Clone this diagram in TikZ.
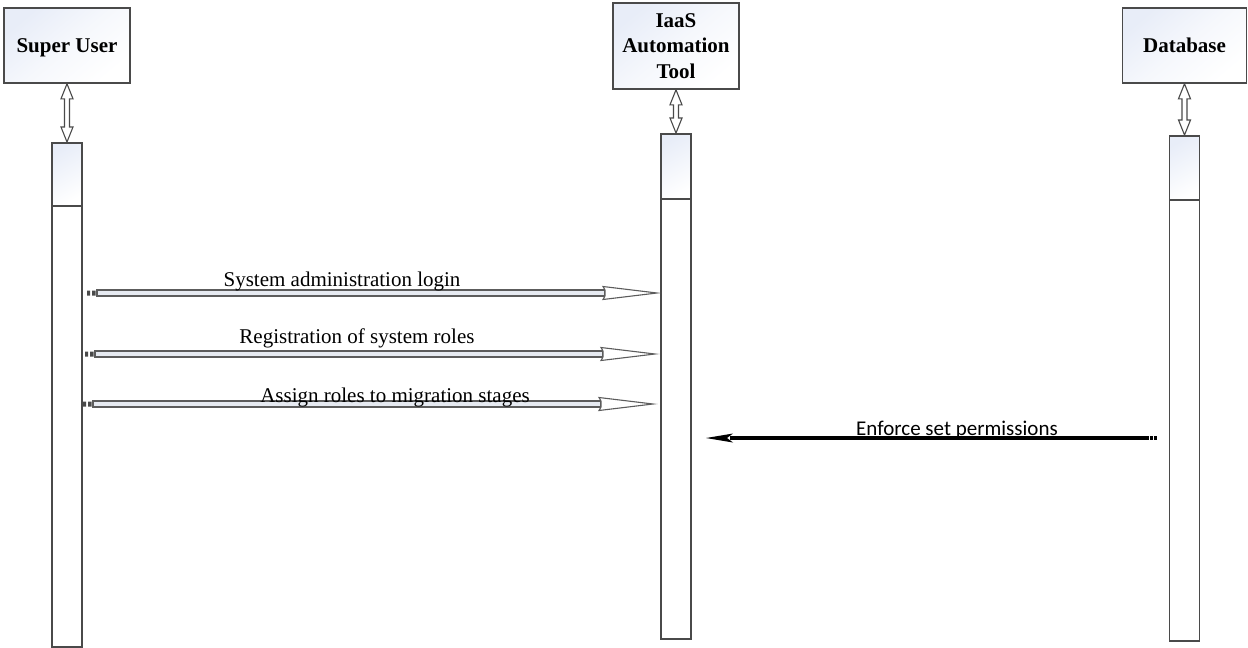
\documentclass[tikz,border=0pt]{standalone}
\usepackage{fontspec}
\setmainfont{Liberation Serif}
\newfontfamily\msgsans{Carlito}
\usetikzlibrary{calc}

\definecolor{edge}{HTML}{4A4A4A}
\definecolor{tint}{HTML}{E8EDF8}
\definecolor{shaftfill}{HTML}{E6EAF1}

\tikzset{
  actor/.style={draw=edge, line width=1.6pt, top color=tint, bottom color=white,
    middle color=white!60!tint, shading angle=40, inner sep=0pt, align=center,
    font=\fontsize{21pt}{25.5pt}\selectfont\bfseries},
  lifeline/.style={draw=edge, line width=1.5pt, fill=white, inner sep=0pt,
    minimum width=30pt, anchor=north},
  lifehead/.style={draw=edge, line width=1.5pt, top color=tint, bottom color=white,
    shading angle=30, inner sep=0pt, minimum width=30pt, anchor=north},
  linkarrow/.style={draw=edge, line width=1.1pt, fill=white, line join=miter},
  msgshaft/.style={draw=edge!90, line width=1.1pt, fill=shaftfill},
  msghead/.style={draw=edge!90, line width=1.1pt, fill=white, line join=miter},
  msglabel/.style={anchor=base, inner sep=0pt, font=\fontsize{21pt}{25pt}\selectfont},
  heavy/.style={draw=black, line width=4pt}
}

% box-to-lifeline hollow double arrow
\newcommand\linkarrow[2]{%
  \draw[linkarrow] let \p1=(#1.south), \p2=(#2.north) in
    (\p1) -- (\x1+6pt,\y1-15pt) -- (\x1+2.5pt,\y1-15pt) -- (\x1+2.5pt,\y2+15pt)
    -- (\x1+6pt,\y2+15pt) -- (\x1,\y2) -- (\x1-6pt,\y2+15pt) -- (\x1-2.5pt,\y2+15pt)
    -- (\x1-2.5pt,\y1-15pt) -- (\x1-6pt,\y1-15pt) -- cycle;}

% hollow message arrow with its small tail marker
\newcommand\msgarrow[2]{%
  \fill[edge] let \p1=(#1) in
    (\x1,\y1-2.5pt) rectangle (\x1+3pt,\y1+2.5pt)
    (\x1+5pt,\y1-2.5pt) rectangle (\x1+8.5pt,\y1+2.5pt);
  \draw[msgshaft] let \p1=(#1), \p2=(#2) in
    (\x1+10pt,\y1-3pt) rectangle (\x2-52pt,\y1+3pt);
  \draw[msghead] let \p1=(#1), \p2=(#2) in
    (\x2-54pt,\y2+6.5pt) -- (\p2) -- (\x2-54pt,\y2-6.5pt) -- (\x2-52pt,\y2-3pt)
    -- (\x2-52pt,\y2+3pt) -- cycle;}

\begin{document}
\begin{tikzpicture}[x=1pt, y=-1pt]
  \useasboundingbox (0,0) rectangle (1248,648);

  % actors
  \node[actor, minimum width=126pt, minimum height=75pt, text depth=0pt] (su) at (67,45.5) {Super User};
  \node[actor, minimum width=126pt, minimum height=86pt] (iaas) at (676,46) {IaaS\\Automation\\Tool};
  \node[actor, minimum width=124pt, minimum height=75pt] (db) at (1184.5,45.5) {Database};

  % lifelines
  \node[lifeline, minimum height=504pt] (suL) at (67,142) {};
  \node[lifehead, minimum height=63pt] (suH) at (suL.north) {};
  \node[lifeline, minimum height=505pt] (iaasL) at (676,133) {};
  \node[lifehead, minimum height=65pt] (iaasH) at (iaasL.north) {};
  \node[lifeline, minimum height=505pt] (dbL) at (1184.5,135) {};
  \node[lifehead, minimum height=64pt] (dbH) at (dbL.north) {};

  \linkarrow{su}{suL}
  \linkarrow{iaas}{iaasL}
  \linkarrow{db}{dbL}

  % message end points
  \coordinate (m1a) at (87,293);   \coordinate (m1b) at (657,293);
  \coordinate (m2a) at (85,354);   \coordinate (m2b) at (655,354);
  \coordinate (m3a) at (83,404);   \coordinate (m3b) at (653,404);
  \coordinate (m4a) at (1157,438); \coordinate (m4b) at (706,438);

  \msgarrow{m1a}{m1b}
  \msgarrow{m2a}{m2b}
  \msgarrow{m3a}{m3b}

  \node[msglabel] (l1) at (342,286) {System administration login};
  \node[msglabel] (l2) at (357,343) {Registration of system roles};
  \node[msglabel] (l3) at (395,402) {Assign roles to migration stages};

  % return message from the database
  \draw[heavy] let \p1=(m4a), \p2=(m4b) in (\x1-12pt,\y1) -- (\x2+24pt,\y2);
  \draw[heavy, dash pattern=on 3.5pt off 1.2pt] let \p1=(m4a) in (\x1-12pt,\y1) -- (\p1);
  \fill[black] let \p2=(m4b) in
    (\p2) -- (\x2+27pt,\y2+4.5pt) -- (\x2+21pt,\y2) -- (\x2+27pt,\y2-4.5pt) -- cycle;
  \node[msglabel, font=\fontsize{21pt}{25pt}\msgsans] (l4) at (957,435) {Enforce set permissions};
\end{tikzpicture}
\end{document}
